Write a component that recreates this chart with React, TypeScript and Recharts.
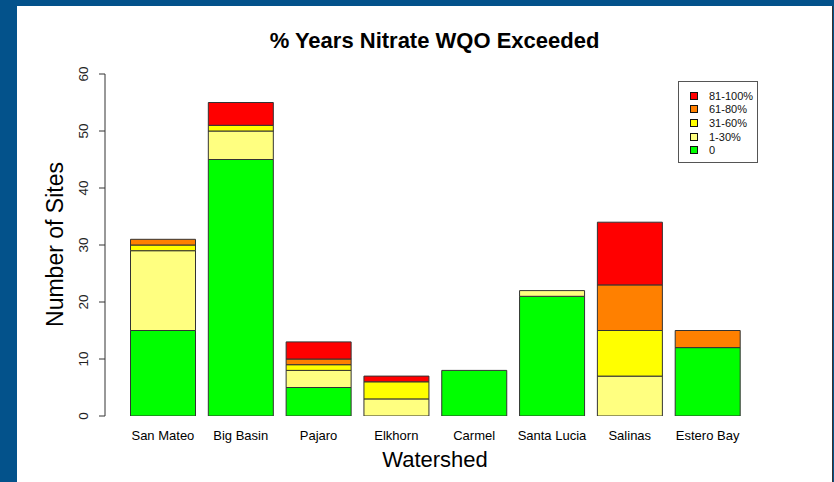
import { BarChart, Bar, XAxis, YAxis, Customized } from "recharts";

const watersheds = ["San Mateo", "Big Basin", "Pajaro", "Elkhorn", "Carmel", "Santa Lucia", "Salinas", "Estero Bay"];

// sites per exceedance class, bottom to top
const zeroPct = [15, 45, 5, 0, 8, 21, 0, 12];
const pct1to30 = [14, 5, 3, 3, 0, 1, 7, 0];
const pct31to60 = [1, 1, 1, 3, 0, 0, 8, 0];
const pct61to80 = [1, 0, 1, 0, 0, 0, 8, 3];
const pct81to100 = [0, 4, 3, 1, 0, 0, 11, 0];

const yTicks = [0, 10, 20, 30, 40, 50, 60];

const series = [
  { key: "zero", label: "0", color: "#00ff00" },
  { key: "p1", label: "1-30%", color: "#ffff80" },
  { key: "p31", label: "31-60%", color: "#ffff00" },
  { key: "p61", label: "61-80%", color: "#ff8000" },
  { key: "p81", label: "81-100%", color: "#ff0000" },
];

const data = watersheds.map((name, i) => ({
  name,
  zero: zeroPct[i],
  p1: pct1to30[i],
  p31: pct31to60[i],
  p61: pct61to80[i],
  p81: pct81to100[i],
}));

const FONT = "'Liberation Sans', Arial, sans-serif";

function YTick({ y, payload }: any) {
  const x = 87.5;
  return (
    <text
      x={x}
      y={y}
      transform={`rotate(-90 ${x} ${y})`}
      textAnchor="middle"
      fontSize={13.5}
      fontFamily={FONT}
      fill="#222"
    >
      {payload.value}
    </text>
  );
}

function Titles() {
  return (
    <g fontFamily={FONT} fill="#000">
      <text x={434.5} y={48} textAnchor="middle" fontSize={22} fontWeight="bold">
        % Years Nitrate WQO Exceeded
      </text>
      <text x={435} y={467} textAnchor="middle" fontSize={22}>
        Watershed
      </text>
      <text x={62.5} y={244.5} transform="rotate(-90 62.5 244.5)" textAnchor="middle" fontSize={23}>
        Number of Sites
      </text>
    </g>
  );
}

export default function App() {
  const legendItems = [...series].reverse();
  return (
    <div style={{ position: "absolute", left: 0, top: 0, width: 834, height: 482, background: "#03528b", overflow: "hidden" }}>
      <div style={{ position: "absolute", left: 17, top: 6, width: 815, height: 476, background: "#fff" }} />
      <div style={{ position: "absolute", left: 832, top: 6, width: 1, height: 476, background: "#333" }} />
      <div style={{ position: "absolute", left: 0, top: 0 }}>
        <BarChart
          width={834}
          height={482}
          data={data}
          margin={{ top: 74, right: 87.5, bottom: 0, left: 0 }}
          barCategoryGap={6.5}
        >
          <XAxis
            dataKey="name"
            height={66}
            axisLine={false}
            tickLine={false}
            tickSize={0}
            tickMargin={15}
            padding={{ left: 19, right: 0 }}
            interval={0}
            tick={{ fontSize: 13, fontFamily: FONT, fill: "#000" }}
          />
          <YAxis
            width={105}
            domain={[0, 60]}
            ticks={yTicks}
            allowDataOverflow
            axisLine={{ stroke: "#333" }}
            tickLine={{ stroke: "#333" }}
            tickSize={6}
            tick={<YTick />}
          />
          {series.map((s) => (
            <Bar
              key={s.key}
              dataKey={s.key}
              stackId="a"
              fill={s.color}
              stroke="#333"
              strokeWidth={1}
              isAnimationActive={false}
            />
          ))}
          <Customized component={Titles} />
        </BarChart>
      </div>
      <div
        style={{
          position: "absolute",
          left: 678,
          top: 81,
          width: 78,
          height: 80,
          border: "1px solid #555",
          background: "#fff",
          fontFamily: FONT,
          fontSize: 11,
          color: "#111",
        }}
      >
        {legendItems.map((s, i) => (
          <div
            key={s.key}
            style={{ position: "absolute", left: 11, top: 7 + i * 13.7, height: 13, display: "flex", alignItems: "center" }}
          >
            <span
              style={{ display: "inline-block", width: 6, height: 6, background: s.color, border: "1px solid #111", marginRight: 11 }}
            />
            <span>{s.label}</span>
          </div>
        ))}
      </div>
    </div>
  );
}
